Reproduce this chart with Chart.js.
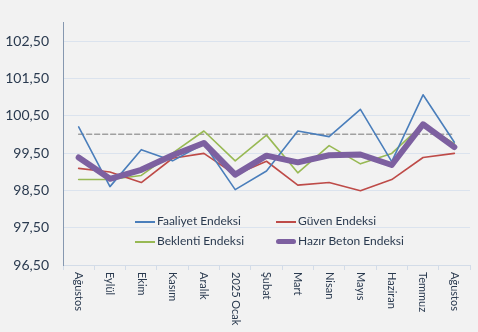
<!DOCTYPE html>
<html>
<head>
<meta charset="utf-8">
<script src="https://cdn.jsdelivr.net/npm/chart.js@4"></script>
<style>
    body { margin: 0; background: #f2f2f2; }
    #wrap { position: relative; width: 478px; height: 332px; }
    .leg { position: absolute; font: 12px Lato, sans-serif; color: #2a3a4f; white-space: nowrap; }
    .leg span { display: inline-block; width: 20px; vertical-align: middle; margin-right: 2px; }
</style>
</head>
<body>
<div id="wrap">
    <canvas id="myChart" width="478" height="332"></canvas>
    <div class="leg" style="left:135px; top:213px;"><span style="border-top:2px solid #4a7ebb"></span>Faaliyet Endeksi</div>
    <div class="leg" style="left:276px; top:213px;"><span style="border-top:2px solid #be4b48"></span>Güven Endeksi</div>
    <div class="leg" style="left:135px; top:233px;"><span style="border-top:2px solid #98b954"></span>Beklenti Endeksi</div>
    <div class="leg" style="left:276px; top:233px;"><span style="border-top:5px solid #7d60a0; border-radius:3px"></span>Hazır Beton Endeksi</div>
</div>
<script>
let labels = ["Ağustos", "Eylül", "Ekim", "Kasım", "Aralık", "2025 Ocak", "Şubat", "Mart", "Nisan", "Mayıs", "Haziran", "Temmuz", "Ağustos"];
let faaliyet = [100.20, 98.60, 99.59, 99.29, 99.75, 98.52, 99.02, 100.09, 99.94, 100.67, 99.27, 101.06, 99.79];
let guven = [99.09, 98.99, 98.71, 99.36, 99.49, 98.92, 99.28, 98.64, 98.71, 98.49, 98.79, 99.38, 99.49];
let beklenti = [98.79, 98.79, 98.90, 99.50, 100.09, 99.29, 99.98, 98.97, 99.70, 99.21, 99.49, 100.27, 99.75];
let hazirBeton = [99.38, 98.81, 99.05, 99.44, 99.77, 98.92, 99.43, 99.25, 99.44, 99.46, 99.18, 100.27, 99.66];
let refLine = 100;
let yTicks = [96.5, 97.5, 98.5, 99.5, 100.5, 101.5, 102.5];

// x labels read top-to-bottom in the original, so draw them ourselves
const rotatedLabels = {
    id: "rotatedLabels",
    afterDraw(chart) {
        let ctx = chart.ctx;
        let xScale = chart.scales.x;
        ctx.save();
        ctx.fillStyle = "#2a3a4f";
        ctx.font = "11px Lato, sans-serif";
        ctx.textAlign = "left";
        ctx.textBaseline = "middle";
        labels.forEach((lab, i) => {
            ctx.save();
            ctx.translate(xScale.getPixelForValue(i), chart.chartArea.bottom + 7);
            ctx.rotate(Math.PI / 2);
            ctx.fillText(lab, 0, 0);
            ctx.restore();
        });
        ctx.restore();
    }
};

let config = {
    type: "line",
    data: {
        labels: labels,
        datasets: [
            { label: "Hazır Beton Endeksi", data: hazirBeton, borderColor: "#7d60a0", borderWidth: 6, order: 0 },
            { label: "Faaliyet Endeksi", data: faaliyet, borderColor: "#4a7ebb", borderWidth: 1.6, order: 1 },
            { label: "Güven Endeksi", data: guven, borderColor: "#be4b48", borderWidth: 1.6, order: 2 },
            { label: "Beklenti Endeksi", data: beklenti, borderColor: "#98b954", borderWidth: 1.6, order: 3 },
            { label: "ref", data: labels.map(() => refLine), borderColor: "#a0a0a0", borderWidth: 1.5, borderDash: [5, 3], order: 4 }
        ]
    },
    options: {
        responsive: false,
        animation: false,
        layout: { padding: { top: 15, right: 8, left: 0, bottom: 0 } },
        elements: {
            point: { radius: 0 },
            line: { tension: 0, fill: false, borderJoinStyle: "round", borderCapStyle: "round" }
        },
        plugins: {
            legend: { display: false },
            tooltip: { enabled: false }
        },
        scales: {
            x: {
                offset: true,
                grid: { offset: true, drawOnChartArea: false, drawTicks: true, tickLength: 5, color: "#d3dce8" },
                border: { color: "#d3dce8" },
                ticks: { color: "rgba(0,0,0,0)" },
                afterFit: s => { s.height = 67; }
            },
            y: {
                min: 96.5,
                max: 103,
                afterBuildTicks: s => { s.ticks = yTicks.map(v => ({ value: v })); },
                grid: { color: "#dbe3ee", drawTicks: false },
                border: { color: "#8698b0" },
                ticks: {
                    padding: 14,
                    color: "#2a3a4f",
                    font: { family: "Lato, sans-serif", size: 14 },
                    callback: v => v.toFixed(2).replace(".", ",")
                },
                afterFit: s => { s.width = 63; }
            }
        }
    },
    plugins: [rotatedLabels]
};

let ctx = document.getElementById("myChart").getContext("2d");
let myChart = new Chart(ctx, config);
</script>
</body>
</html>
